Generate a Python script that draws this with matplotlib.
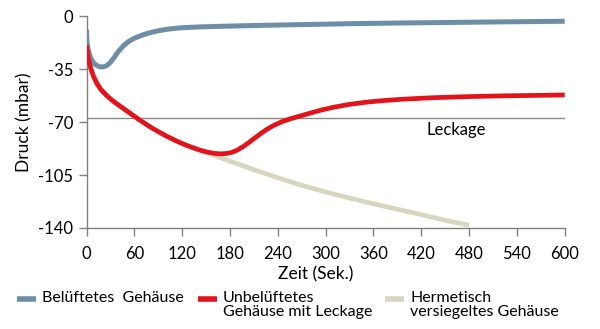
import matplotlib.pyplot as plt
from matplotlib.lines import Line2D

plt.rcParams['font.family'] = ['Lato', 'DejaVu Sans']
plt.rcParams['axes.unicode_minus'] = False

# Belüftetes Gehäuse
t_blue = [0, 0.5, 2, 5, 8, 11, 14, 17, 20, 23, 26, 30, 34.5, 40, 47, 53, 60, 70, 80, 90, 101, 112, 122, 143, 170, 220, 270, 330, 400, 470, 540, 600]
p_blue = [-9, -17, -22, -27.5, -30.3, -32, -32.9, -33.5, -33.6, -33.3, -32.5, -30.5, -27.5, -23.3, -19.2, -16.7, -14.6, -12.5, -10.9, -9.7, -8.7, -8, -7.6, -7.1, -6.7, -6.1, -5.6, -5, -4.5, -4.1, -3.7, -3.4]

# Unbelüftetes Gehäuse mit Leckage
t_red = [0, 1, 2.5, 5, 8.5, 13, 18, 24, 30, 38, 47, 55, 63, 72, 81, 90, 100, 110, 120, 130, 142, 152, 160, 168, 175, 182, 189, 196, 203, 210, 218, 226, 235, 245, 256, 268, 280, 295, 310, 330, 352, 375, 400, 435, 477, 520, 560, 600]
p_red = [-19.5, -23, -28.5, -34, -39.5, -44.5, -48.5, -51.8, -54.7, -58, -61.3, -64.3, -67.3, -70.5, -73.6, -76.3, -79.2, -81.8, -84.2, -86.3, -88.5, -89.9, -90.7, -91, -90.8, -90.1, -88.6, -86.4, -83.8, -81, -77.8, -74.9, -72.2, -69.8, -67.8, -66, -64.2, -62, -60.2, -58.3, -56.8, -55.7, -54.8, -53.9, -53.2, -52.7, -52.4, -52.1]

# Hermetisch versiegeltes Gehäuse
t_tan = [0, 2.5, 8.5, 18, 30, 47, 63, 81, 100, 120, 135, 146, 155, 165, 180, 195, 209, 225, 240, 255, 268, 285, 300, 315, 330, 352, 370, 390, 412, 435, 455, 477, 480]
p_tan = [-19.5, -28.5, -39.5, -48.5, -54.7, -61.3, -67.3, -73.6, -79.2, -84.2, -87.2, -89.2, -91, -93, -95.8, -98.6, -101.3, -104.1, -106.8, -109.3, -111.5, -114, -116.2, -118.2, -120.2, -123, -125.2, -127.6, -130.2, -133, -135.5, -137.8, -138.1]

leckage = -67
series_labels = ['Belüftetes  Gehäuse', 'Unbelüftetes\nGehäuse mit Leckage', 'Hermetisch\nversiegeltes Gehäuse']
colors = ['#6e8ea8', '#e3131b', '#d8d6bf']
xticks = list(range(0, 601, 60))
yticks = [0, -35, -70, -105, -140]

fig = plt.figure(figsize=(6, 3.29), dpi=100)
ax = fig.add_axes([0.1442, 0.307, 0.797, 0.644])

ax.axhline(leckage, color='#8a8a8a', lw=1.0, zorder=1)
ax.text(464, -75.5, 'Leckage', ha='center', va='center', fontsize=12)

ax.plot(t_tan, p_tan, color=colors[2], lw=3.4, solid_capstyle='butt', solid_joinstyle='round', zorder=2)
ax.plot(t_blue, p_blue, color=colors[0], lw=3.6, solid_capstyle='butt', solid_joinstyle='round', zorder=3)
ax.plot(t_red, p_red, color=colors[1], lw=3.4, solid_capstyle='butt', solid_joinstyle='round', zorder=4)

ax.set_xlim(0, 600)
ax.set_ylim(-140, 0)
ax.set_xticks(xticks)
ax.set_yticks(yticks)
ax.tick_params(direction='out', length=6, width=1, color='#808080', labelsize=12)
ax.tick_params(axis='x', pad=7)
ax.tick_params(axis='y', pad=3.5)
for s in ['top', 'right']:
    ax.spines[s].set_visible(False)
for s in ['left', 'bottom']:
    ax.spines[s].set_color('#808080')
    ax.spines[s].set_linewidth(1)
ax.set_xlabel('Zeit (Sek.)', fontsize=12.5)
ax.xaxis.set_label_coords((316 - 86.5) / 478, -0.18)
ax.set_ylabel('Druck (mbar)', fontsize=12.5, labelpad=4)

# legend drawn by hand so the swatch sits on the first text line
leg_x = [17, 198, 385]
for i in range(3):
    x0 = leg_x[i] / 600
    y0 = 1 - 298.5 / 329
    fig.add_artist(Line2D([x0, x0 + 19 / 600], [y0, y0], color=colors[i], lw=4, solid_capstyle='butt'))
    fig.text(x0 + 25 / 600, 1 - 290.5 / 329, series_labels[i], ha='left', va='top', fontsize=11.5, linespacing=1.05)

fig.savefig('out.png', dpi=100)
